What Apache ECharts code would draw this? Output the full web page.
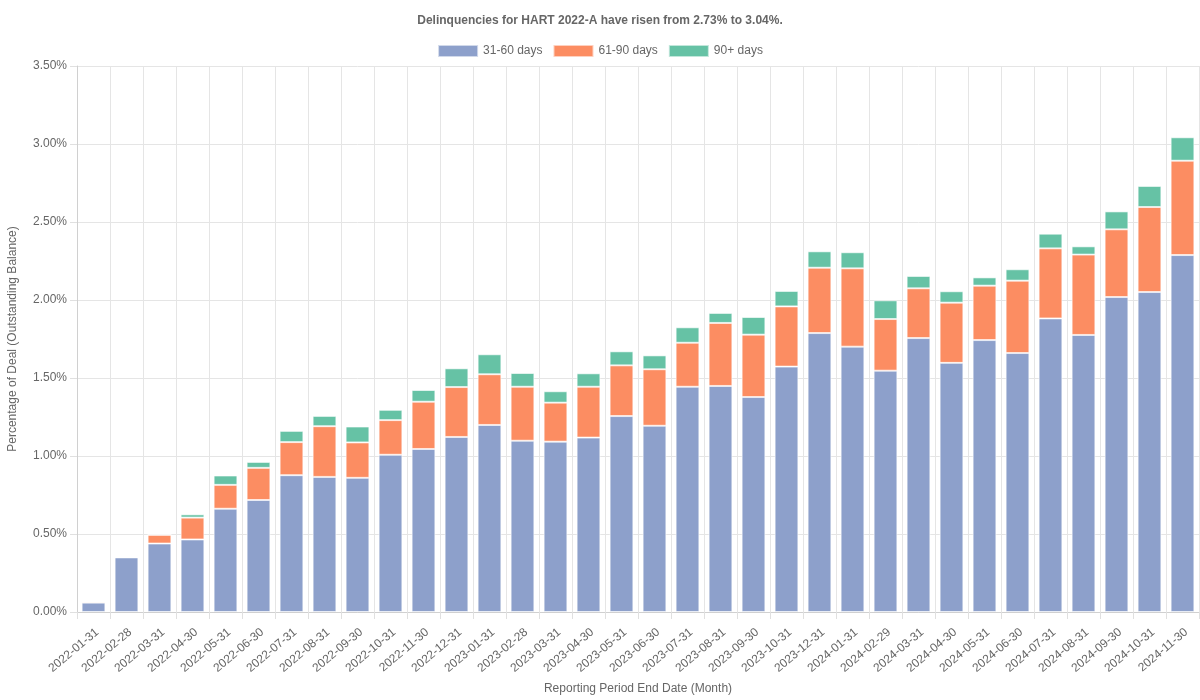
<!DOCTYPE html>
<html>
<head>
<meta charset="utf-8">
<script src="https://cdn.jsdelivr.net/npm/echarts@6/dist/echarts.min.js"></script>
<style>
html,body{margin:0;padding:0;background:#fff;}
#chart{width:1200px;height:700px;}
</style>
</head>
<body>
<div id="chart"></div>
<script>
const categories = ["2022-01-31","2022-02-28","2022-03-31","2022-04-30","2022-05-31","2022-06-30","2022-07-31","2022-08-31","2022-09-30","2022-10-31","2022-11-30","2022-12-31","2023-01-31","2023-02-28","2023-03-31","2023-04-30","2023-05-31","2023-06-30","2023-07-31","2023-08-31","2023-09-30","2023-10-31","2023-12-31","2024-01-31","2024-02-29","2024-03-31","2024-04-30","2024-05-31","2024-06-30","2024-07-31","2024-08-31","2024-09-30","2024-10-31","2024-11-30"];
const d31_60 = [0.060,0.350,0.439,0.465,0.662,0.718,0.877,0.866,0.860,1.008,1.045,1.122,1.199,1.098,1.092,1.118,1.256,1.194,1.444,1.449,1.378,1.573,1.788,1.701,1.547,1.756,1.597,1.743,1.660,1.882,1.776,2.019,2.051,2.288];
const d61_90 = [0.007,0.000,0.056,0.140,0.153,0.206,0.212,0.325,0.227,0.222,0.303,0.320,0.325,0.346,0.250,0.326,0.325,0.362,0.282,0.404,0.400,0.386,0.419,0.502,0.331,0.319,0.386,0.349,0.464,0.449,0.515,0.434,0.545,0.605];
const d90p = [0.000,0.000,0.000,0.021,0.060,0.038,0.072,0.066,0.102,0.066,0.075,0.120,0.128,0.088,0.073,0.086,0.090,0.089,0.099,0.064,0.113,0.099,0.105,0.103,0.120,0.079,0.073,0.053,0.073,0.094,0.053,0.115,0.135,0.150];
const seriesNames = ["31-60 days","61-90 days","90+ days"];
const colors = ["#8da0cb","#fc8d62","#66c2a5"];
const titleText = "Delinquencies for HART 2022-A have risen from 2.73% to 3.04%.";

const chart = echarts.init(document.getElementById('chart'));
const font = "'Liberation Sans', Arial, sans-serif";
const mk = (name, data, i) => ({
  name, type: 'bar', stack: 'total', data,
  barWidth: '72%',
  itemStyle: {color: colors[i], borderColor: 'rgba(255,255,255,0.6)', borderWidth: 1},
  emphasis: {disabled: true}
});
chart.setOption({
  animation: false,
  textStyle: {fontFamily: font},
  title: {text: titleText, left: 'center', top: 10,
    textStyle: {fontSize: 12, fontWeight: 'bold', color: '#666', fontFamily: font}},
  legend: {top: 39, left: 'center', itemWidth: 40, itemHeight: 12, itemGap: 10,
    icon: 'rect',
    textStyle: {fontSize: 12, color: '#666', fontFamily: font},
    data: seriesNames},
  grid: {left: 77, right: 1, top: 66, bottom: 88, containLabel: false, outerBoundsMode: 'none'},
  xAxis: {
    type: 'category', data: categories,
    name: 'Reporting Period End Date (Month)', nameLocation: 'middle', nameGap: 71,
    nameTextStyle: {fontSize: 12, color: '#666'},
    axisLine: {lineStyle: {color: '#d0d0d0'}},
    axisTick: {show: true, length: 7, lineStyle: {color: '#e0e0e0'}},
    axisLabel: {rotate: 40, fontSize: 12, color: '#666', interval: 0, margin: 14, verticalAlign: 'top'},
    splitLine: {show: true, lineStyle: {color: '#e5e5e5'}}
  },
  yAxis: {
    type: 'value', min: 0, max: 3.5, interval: 0.5,
    name: 'Percentage of Deal (Outstanding Balance)', nameLocation: 'middle', nameGap: 58,
    nameTextStyle: {fontSize: 12, color: '#666'},
    axisLine: {show: true, lineStyle: {color: '#d0d0d0'}},
    axisTick: {show: true, length: 7, lineStyle: {color: '#e0e0e0'}},
    axisLabel: {fontSize: 12, color: '#666', margin: 10, formatter: v => v.toFixed(2) + '%'},
    splitLine: {show: true, lineStyle: {color: '#e5e5e5'}}
  },
  series: [mk(seriesNames[0], d31_60, 0), mk(seriesNames[1], d61_90, 1), mk(seriesNames[2], d90p, 2)]
});
</script>
</body>
</html>
